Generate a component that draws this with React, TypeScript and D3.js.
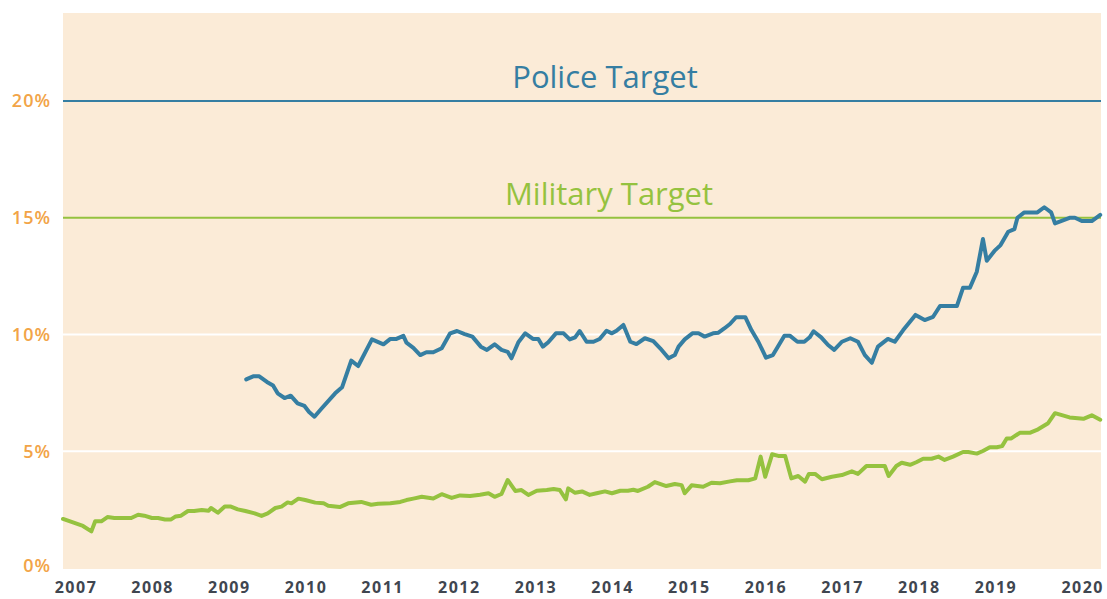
import React from "react";
import * as d3 from "d3";

const yearTicks = [2007, 2008, 2009, 2010, 2011, 2012, 2013, 2014, 2015, 2016, 2017, 2018, 2019, 2020];
const percentTicks = [0, 5, 10, 15, 20];
const gridValues = [5, 10];
const policeTarget = 20;
const militaryTarget = 15;

// decimal years
const policeDates = [
  2009.39, 2009.48, 2009.56, 2009.66, 2009.74, 2009.8, 2009.89, 2009.97, 2010.06, 2010.15, 2010.21, 2010.28,
  2010.37, 2010.55, 2010.64, 2010.76, 2010.85, 2011.03, 2011.18, 2011.27, 2011.35, 2011.44, 2011.48, 2011.57,
  2011.66, 2011.74, 2011.83, 2011.94, 2012.05, 2012.14, 2012.24, 2012.34, 2012.45, 2012.53, 2012.63, 2012.72,
  2012.8, 2012.85, 2012.94, 2013.03, 2013.13, 2013.2, 2013.26, 2013.33, 2013.43, 2013.53, 2013.61, 2013.68,
  2013.74, 2013.83, 2013.92, 2014.0, 2014.09, 2014.16, 2014.22, 2014.31, 2014.4, 2014.48, 2014.59, 2014.7,
  2014.79, 2014.9, 2014.98, 2015.03, 2015.11, 2015.21, 2015.29, 2015.37, 2015.48, 2015.55, 2015.63, 2015.7,
  2015.78, 2015.9, 2015.98, 2016.07, 2016.17, 2016.26, 2016.41, 2016.48, 2016.58, 2016.67, 2016.74, 2016.79,
  2016.89, 2016.98, 2017.06, 2017.16, 2017.27, 2017.37, 2017.46, 2017.55, 2017.63, 2017.76, 2017.85, 2017.96,
  2018.12, 2018.24, 2018.35, 2018.44, 2018.66, 2018.74, 2018.83, 2018.92, 2019.0, 2019.05, 2019.15, 2019.23,
  2019.33, 2019.41, 2019.45, 2019.54, 2019.71, 2019.8, 2019.89, 2019.94, 2020.13, 2020.2, 2020.29, 2020.42,
  2020.53,
];
const policeValues = [
  8.08, 8.21, 8.21, 7.97, 7.82, 7.48, 7.28, 7.38, 7.05, 6.94, 6.68, 6.48,
  6.82, 7.48, 7.74, 8.88, 8.65, 9.79, 9.58, 9.81, 9.81, 9.94, 9.65, 9.43,
  9.12, 9.24, 9.24, 9.41, 10.05, 10.15, 10.02, 9.91, 9.48, 9.34, 9.58, 9.34,
  9.26, 8.98, 9.67, 10.05, 9.81, 9.81, 9.48, 9.67, 10.05, 10.05, 9.79, 9.88,
  10.15, 9.69, 9.69, 9.81, 10.16, 10.05, 10.16, 10.41, 9.69, 9.59, 9.84, 9.72,
  9.41, 8.98, 9.12, 9.48, 9.79, 10.05, 10.05, 9.91, 10.05, 10.08, 10.27, 10.45,
  10.74, 10.74, 10.19, 9.69, 9.01, 9.12, 9.95, 9.95, 9.69, 9.69, 9.88, 10.14,
  9.88, 9.55, 9.34, 9.69, 9.84, 9.69, 9.12, 8.79, 9.48, 9.81, 9.69, 10.19,
  10.84, 10.62, 10.76, 11.22, 11.22, 12.0, 12.0, 12.69, 14.09, 13.16, 13.58, 13.83,
  14.4, 14.51, 15.0, 15.23, 15.23, 15.45, 15.23, 14.76, 15.0, 15.0, 14.86, 14.86,
  15.12,
];

const militaryDates = [
  2007.0, 2007.26, 2007.37, 2007.42, 2007.5, 2007.58, 2007.67, 2007.89, 2007.98, 2008.06, 2008.16, 2008.24,
  2008.33, 2008.41, 2008.47, 2008.54, 2008.63, 2008.71, 2008.81, 2008.9, 2008.93, 2009.02, 2009.11, 2009.19,
  2009.28, 2009.38, 2009.5, 2009.59, 2009.67, 2009.77, 2009.85, 2009.93, 2009.98, 2010.07, 2010.16, 2010.29,
  2010.4, 2010.46, 2010.61, 2010.72, 2010.89, 2011.02, 2011.11, 2011.27, 2011.4, 2011.48, 2011.57, 2011.68,
  2011.83, 2011.94, 2012.07, 2012.18, 2012.31, 2012.44, 2012.55, 2012.63, 2012.72, 2012.8, 2012.9, 2012.98,
  2013.07, 2013.18, 2013.31, 2013.4, 2013.48, 2013.56, 2013.59, 2013.68, 2013.77, 2013.87, 2013.96, 2014.07,
  2014.16, 2014.27, 2014.37, 2014.44, 2014.5, 2014.63, 2014.72, 2014.87, 2014.98, 2015.07, 2015.11, 2015.2,
  2015.35, 2015.46, 2015.57, 2015.7, 2015.79, 2015.94, 2016.03, 2016.1, 2016.16, 2016.25, 2016.33, 2016.42,
  2016.5, 2016.59, 2016.68, 2016.73, 2016.81, 2016.9, 2017.03, 2017.16, 2017.29, 2017.37, 2017.48, 2017.72,
  2017.77, 2017.87, 2017.94, 2018.05, 2018.13, 2018.22, 2018.33, 2018.42, 2018.5, 2018.61, 2018.74, 2018.81,
  2018.92, 2019.0, 2019.09, 2019.18, 2019.25, 2019.31, 2019.37, 2019.48, 2019.61, 2019.72, 2019.85, 2019.94,
  2020.13, 2020.31, 2020.42, 2020.53,
];
const militaryValues = [
  2.1, 1.8, 1.57, 2.0, 2.0, 2.18, 2.14, 2.14, 2.28, 2.24, 2.14, 2.14,
  2.08, 2.08, 2.21, 2.24, 2.44, 2.44, 2.48, 2.45, 2.57, 2.37, 2.63, 2.63,
  2.51, 2.44, 2.34, 2.23, 2.34, 2.57, 2.63, 2.81, 2.77, 2.97, 2.91, 2.8,
  2.77, 2.67, 2.61, 2.77, 2.83, 2.71, 2.75, 2.77, 2.83, 2.91, 2.97, 3.05,
  2.98, 3.16, 3.0, 3.11, 3.08, 3.14, 3.2, 3.05, 3.17, 3.77, 3.3, 3.34,
  3.13, 3.31, 3.34, 3.38, 3.34, 2.94, 3.41, 3.22, 3.28, 3.13, 3.2, 3.28,
  3.2, 3.31, 3.31, 3.35, 3.3, 3.48, 3.68, 3.51, 3.6, 3.55, 3.2, 3.54,
  3.48, 3.65, 3.63, 3.71, 3.76, 3.76, 3.84, 4.77, 3.91, 4.87, 4.8, 4.8,
  3.84, 3.94, 3.7, 4.03, 4.03, 3.8, 3.91, 3.98, 4.14, 4.03, 4.37, 4.37,
  3.94, 4.37, 4.51, 4.42, 4.53, 4.68, 4.68, 4.77, 4.63, 4.77, 4.97, 4.97,
  4.9, 5.01, 5.17, 5.17, 5.22, 5.55, 5.55, 5.79, 5.79, 5.94, 6.2, 6.63,
  6.45, 6.39, 6.54, 6.35,
];

const W = 1107;
const H = 599;
const plot = { left: 63, right: 1101, top: 13, bottom: 569 };
const BLUE = "#357ea2";
const GREEN = "#95c23f";
const ORANGE = "#f2a447";
const BG = "#fbebd7";

export default function App() {
  const x = d3.scaleLinear().domain([2007, 2020.54]).range([plot.left, plot.right]);
  const y = d3.scaleLinear().domain([0, 23.77]).range([568, plot.top]);

  const line = d3
    .line<[number, number]>()
    .x((d) => x(d[0]))
    .y((d) => y(d[1]))
    .curve(d3.curveLinear);

  const police: [number, number][] = policeDates.map((d, i) => [d, policeValues[i]]);
  const military: [number, number][] = militaryDates.map((d, i) => [d, militaryValues[i]]);

  const font = "'Open Sans', 'DejaVu Sans', sans-serif";

  return (
    <svg width={W} height={H} style={{ position: "absolute", left: 0, top: 0, background: "#fff" }}>
      <rect x={plot.left} y={plot.top} width={plot.right - plot.left} height={plot.bottom - plot.top} fill={BG} />
      {gridValues.map((v) => (
        <line key={v} x1={plot.left} x2={plot.right} y1={y(v)} y2={y(v)} stroke="#ffffff" strokeWidth={2} />
      ))}
      <line x1={plot.left} x2={plot.right} y1={y(policeTarget)} y2={y(policeTarget)} stroke={BLUE} strokeWidth={2} />
      <line x1={plot.left} x2={plot.right} y1={y(militaryTarget)} y2={y(militaryTarget)} stroke={GREEN} strokeWidth={2} />
      <text x={605} y={y(policeTarget) - 13} textAnchor="middle" fontFamily={font} fontSize={31} fill={BLUE}>
        Police Target
      </text>
      <text x={609} y={y(militaryTarget) - 13} textAnchor="middle" fontFamily={font} fontSize={31} fill={GREEN}>
        Military Target
      </text>
      {percentTicks.map((v) => (
        <text
          key={v}
          x={51}
          y={Math.min(y(v), 566)}
          dy="0.35em"
          textAnchor="end"
          fontFamily={font}
          fontSize={18}
          fontWeight={600}
          letterSpacing={1}
          fill={ORANGE}
        >
          {v}%
        </text>
      ))}
      <path d={line(military) || ""} fill="none" stroke={GREEN} strokeWidth={4} strokeLinejoin="round" strokeLinecap="round" />
      <path d={line(police) || ""} fill="none" stroke={BLUE} strokeWidth={4} strokeLinejoin="round" strokeLinecap="round" />
      {yearTicks.map((yr, i) => {
        const last = i === yearTicks.length - 1;
        return (
          <text
            key={yr}
            x={last ? 1104 : x(yr) + 13}
            y={593}
            textAnchor={last ? "end" : "middle"}
            fontFamily={font}
            fontSize={16}
            fontWeight={700}
            letterSpacing={1.5}
            fill="#3f4650"
          >
            {yr}
          </text>
        );
      })}
    </svg>
  );
}
